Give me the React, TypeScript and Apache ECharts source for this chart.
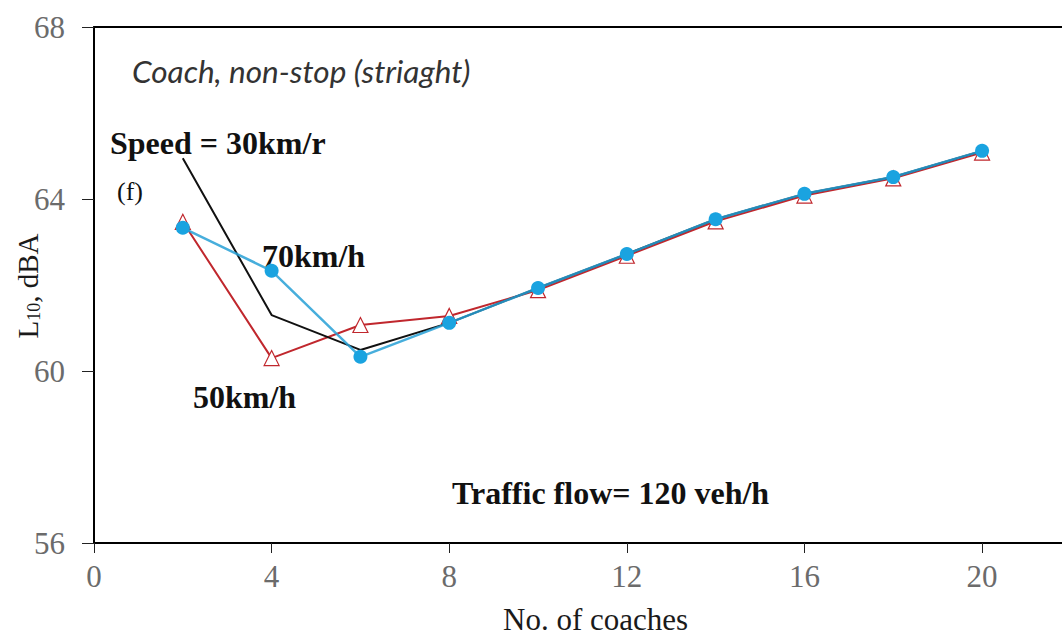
import React, { useEffect, useRef } from "react";
import * as echarts from "echarts";

const coaches = [2, 4, 6, 8, 10, 12, 14, 16, 18, 20];
const speed50 = [63.47, 60.3, 61.07, 61.28, 61.88, 62.68, 63.48, 64.08, 64.48, 65.08];
const speed30 = [64.95, 61.3, 60.49, 61.12, 61.93, 62.72, 63.53, 64.12, 64.51, 65.12];
const speed70 = [63.33, 62.33, 60.33, 61.12, 61.93, 62.72, 63.53, 64.12, 64.51, 65.12];
const yTicks = [56, 60, 64, 68];
const xTicks = [0, 4, 8, 12, 16, 20];

const pairs = (ys: number[]) => coaches.map((x, i) => [x, ys[i]]);

const serif = "Liberation Serif";

export default function App() {
  const ref = useRef<HTMLDivElement>(null);
  useEffect(() => {
    if (!ref.current) return;
    const chart = echarts.init(ref.current, null, { renderer: "svg" });
    chart.setOption({
      animation: false,
      backgroundColor: "#ffffff",
      grid: { left: 94, top: 27, right: 0, bottom: 96, show: false, containLabel: false, outerBoundsMode: "none" },
      xAxis: [
        {
          type: "value",
          min: 0,
          max: 21.8,
          interval: 4,
          axisLine: { show: true, onZero: false, lineStyle: { color: "#000", width: 2 } },
          axisTick: { show: true, length: 10, lineStyle: { color: "#222", width: 1 } },
          axisLabel: {
            fontFamily: serif,
            fontSize: 31,
            color: "#6b6b6b",
            margin: 18,
            showMaxLabel: false,
            formatter: (v: number) => (xTicks.includes(v) ? String(v) : ""),
          },
          splitLine: { show: false },
        },
        {
          type: "value",
          position: "top",
          min: 0,
          max: 21.8,
          axisLine: { show: true, onZero: false, lineStyle: { color: "#000", width: 2 } },
          axisTick: { show: false },
          axisLabel: { show: false },
          splitLine: { show: false },
        },
      ],
      yAxis: {
        type: "value",
        min: 56,
        max: 68,
        interval: 4,
        axisLine: { show: true, onZero: false, lineStyle: { color: "#000", width: 2 } },
        axisTick: { show: true, length: 12, lineStyle: { color: "#222", width: 1 } },
        axisLabel: {
          fontFamily: serif,
          fontSize: 31,
          color: "#6b6b6b",
          margin: 29,
          formatter: (v: number) => (yTicks.includes(v) ? String(v) : ""),
        },
        splitLine: { show: false },
      },
      series: [
        {
          type: "line",
          name: "50km/h",
          data: pairs(speed50),
          symbol: "triangle",
          symbolSize: 15,
          itemStyle: { color: "#ffffff", borderColor: "#c0272d", borderWidth: 1.2 },
          lineStyle: { color: "#c0272d", width: 2 },
          z: 2,
        },
        {
          type: "line",
          name: "30km/h",
          data: pairs(speed30),
          symbol: "none",
          lineStyle: { color: "#111111", width: 2 },
          z: 3,
        },
        {
          type: "line",
          name: "70km/h",
          data: pairs(speed70),
          symbol: "circle",
          symbolSize: 14,
          itemStyle: { color: "#1aa3e0", borderColor: "#1aa3e0", borderWidth: 0 },
          lineStyle: { color: "#27a0d6", width: 2.5, opacity: 0.85 },
          z: 4,
        },
      ],
      graphic: [
        {
          type: "text",
          x: 28,
          y: 286,
          rotation: Math.PI / 2,
          style: {
            text: "L{sub|10}, dBA",
            fontFamily: serif,
            fontSize: 29,
            fill: "#1a1a1a",
            align: "center",
            verticalAlign: "middle",
            rich: {
              sub: { fontFamily: serif, fontSize: 18, fill: "#1a1a1a", verticalAlign: "bottom", padding: [10, 0, 0, 0] },
            },
          },
        },
        {
          type: "text",
          x: 132,
          y: 71,
          style: { text: "Coach, non-stop (striaght)", fontFamily: "Lato", fontStyle: "italic", fontSize: 31.5, fill: "#333", verticalAlign: "middle" },
        },
        {
          type: "text",
          x: 110,
          y: 143,
          style: { text: "Speed = 30km/r", fontFamily: serif, fontWeight: "bold", fontSize: 32, fill: "#111", verticalAlign: "middle" },
        },
        {
          type: "text",
          x: 117,
          y: 191,
          style: { text: "(f)", fontFamily: serif, fontSize: 26, fill: "#111", verticalAlign: "middle" },
        },
        {
          type: "text",
          x: 262,
          y: 256,
          style: { text: "70km/h", fontFamily: serif, fontWeight: "bold", fontSize: 32, fill: "#111", verticalAlign: "middle" },
        },
        {
          type: "text",
          x: 193,
          y: 397,
          style: { text: "50km/h", fontFamily: serif, fontWeight: "bold", fontSize: 32, fill: "#111", verticalAlign: "middle" },
        },
        {
          type: "text",
          x: 452,
          y: 493,
          style: { text: "Traffic flow= 120 veh/h", fontFamily: serif, fontWeight: "bold", fontSize: 32, fill: "#111", verticalAlign: "middle" },
        },
        {
          type: "text",
          x: 503,
          y: 619,
          style: { text: "No. of coaches", fontFamily: serif, fontSize: 31, fill: "#1a1a1a", verticalAlign: "middle" },
        },
      ],
    });
    return () => chart.dispose();
  }, []);
  return (
    <div
      ref={ref}
      style={{ position: "fixed", left: 0, top: 0, width: 1062, height: 639, background: "#fff" }}
    />
  );
}
